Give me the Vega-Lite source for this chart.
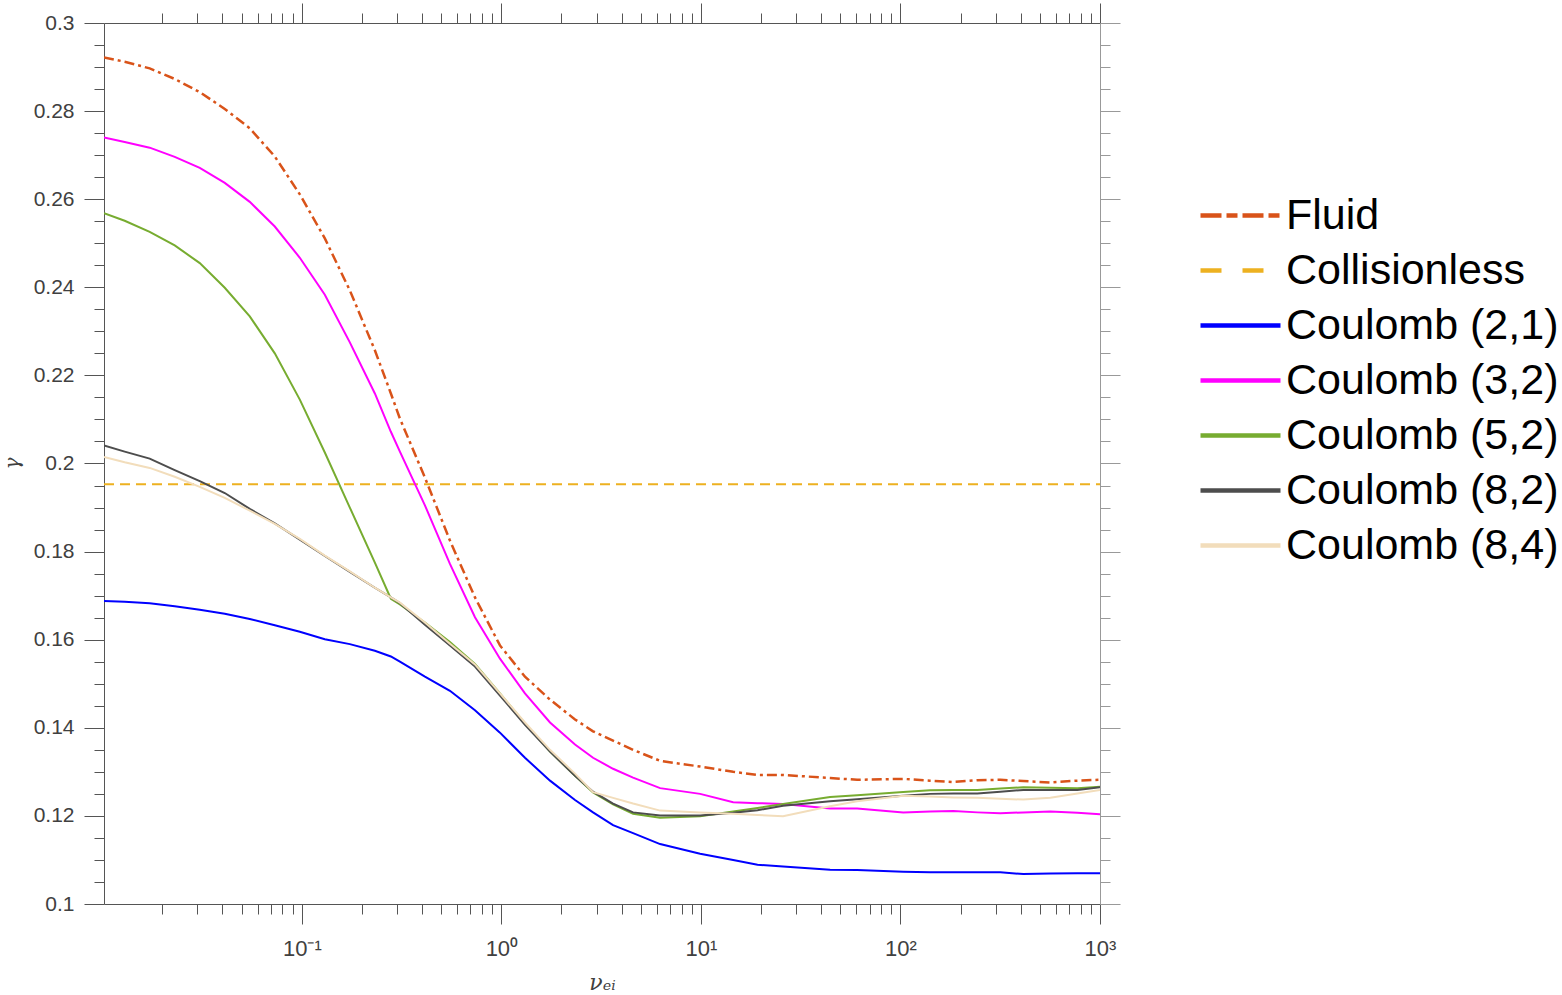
{
"$schema": "https://vega.github.io/schema/vega-lite/v6.json",
"width": 996, "height": 881,
"autosize": {"type": "none"},
"padding": {"left": 104, "top": 23, "right": 462, "bottom": 91},
"background": "white",
"config": {"view": {"stroke": null}, "axis": {"grid": false, "labelFont": "Liberation Sans", "labelFontSize": 21, "labelColor": "#404040", "domainColor": "#555555", "tickColor": "#555555", "tickWidth": 1, "domainWidth": 1, "labelOverlap": false, "labelFlush": false, "labelBound": false}},
"datasets": {"d": [
{"s":"Collisionless","x":0.0102,"y":0.1953},{"s":"Collisionless","x":1000,"y":0.1953},
{"s":"Fluid","x":0.0102,"y":0.2922},{"s":"Fluid","x":0.01295,"y":0.2912},{"s":"Fluid","x":0.01728,"y":0.2897},{"s":"Fluid","x":0.02307,"y":0.2873},{"s":"Fluid","x":0.0308,"y":0.2843},{"s":"Fluid","x":0.0411,"y":0.2805},{"s":"Fluid","x":0.05484,"y":0.2761},{"s":"Fluid","x":0.0732,"y":0.2697},{"s":"Fluid","x":0.09772,"y":0.2611},{"s":"Fluid","x":0.1304,"y":0.2511},{"s":"Fluid","x":0.174,"y":0.2393},{"s":"Fluid","x":0.2323,"y":0.2257},{"s":"Fluid","x":0.2794,"y":0.2159},{"s":"Fluid","x":0.3101,"y":0.2102},{"s":"Fluid","x":0.4139,"y":0.1968},{"s":"Fluid","x":0.5524,"y":0.1825},{"s":"Fluid","x":0.7374,"y":0.1696},{"s":"Fluid","x":0.984,"y":0.1587},{"s":"Fluid","x":1.313,"y":0.1516},{"s":"Fluid","x":1.753,"y":0.1464},{"s":"Fluid","x":2.339,"y":0.1419},{"s":"Fluid","x":2.88,"y":0.1392},{"s":"Fluid","x":3.628,"y":0.1371},{"s":"Fluid","x":4.571,"y":0.135},{"s":"Fluid","x":6.244,"y":0.1325},{"s":"Fluid","x":9.909,"y":0.1312},{"s":"Fluid","x":14.51,"y":0.13},{"s":"Fluid","x":19.22,"y":0.1293},{"s":"Fluid","x":25.8,"y":0.1293},{"s":"Fluid","x":44.41,"y":0.1286},{"s":"Fluid","x":60.66,"y":0.1282},{"s":"Fluid","x":103.3,"y":0.1284},{"s":"Fluid","x":140.7,"y":0.128},{"s":"Fluid","x":184,"y":0.1277},{"s":"Fluid","x":242.8,"y":0.1281},{"s":"Fluid","x":316.6,"y":0.1282},{"s":"Fluid","x":412.9,"y":0.1279},{"s":"Fluid","x":564,"y":0.1276},{"s":"Fluid","x":770.2,"y":0.128},{"s":"Fluid","x":1000,"y":0.1282},
{"s":"Coulomb (2,1)","x":0.0102,"y":0.1688},{"s":"Coulomb (2,1)","x":0.01295,"y":0.1686},{"s":"Coulomb (2,1)","x":0.01728,"y":0.1683},{"s":"Coulomb (2,1)","x":0.02307,"y":0.1676},{"s":"Coulomb (2,1)","x":0.0308,"y":0.1668},{"s":"Coulomb (2,1)","x":0.0411,"y":0.1659},{"s":"Coulomb (2,1)","x":0.05484,"y":0.1647},{"s":"Coulomb (2,1)","x":0.0732,"y":0.1633},{"s":"Coulomb (2,1)","x":0.09772,"y":0.1618},{"s":"Coulomb (2,1)","x":0.1304,"y":0.1601},{"s":"Coulomb (2,1)","x":0.174,"y":0.159},{"s":"Coulomb (2,1)","x":0.2323,"y":0.1575},{"s":"Coulomb (2,1)","x":0.2794,"y":0.1562},{"s":"Coulomb (2,1)","x":0.3101,"y":0.155},{"s":"Coulomb (2,1)","x":0.4139,"y":0.1516},{"s":"Coulomb (2,1)","x":0.5524,"y":0.1484},{"s":"Coulomb (2,1)","x":0.7374,"y":0.144},{"s":"Coulomb (2,1)","x":0.984,"y":0.1389},{"s":"Coulomb (2,1)","x":1.313,"y":0.1332},{"s":"Coulomb (2,1)","x":1.753,"y":0.128},{"s":"Coulomb (2,1)","x":2.339,"y":0.1236},{"s":"Coulomb (2,1)","x":2.88,"y":0.1208},{"s":"Coulomb (2,1)","x":3.628,"y":0.1179},{"s":"Coulomb (2,1)","x":4.571,"y":0.1161},{"s":"Coulomb (2,1)","x":6.244,"y":0.1136},{"s":"Coulomb (2,1)","x":9.909,"y":0.1114},{"s":"Coulomb (2,1)","x":14.51,"y":0.11},{"s":"Coulomb (2,1)","x":19.22,"y":0.1089},{"s":"Coulomb (2,1)","x":25.8,"y":0.1085},{"s":"Coulomb (2,1)","x":44.41,"y":0.1078},{"s":"Coulomb (2,1)","x":60.66,"y":0.1077},{"s":"Coulomb (2,1)","x":103.3,"y":0.1073},{"s":"Coulomb (2,1)","x":140.7,"y":0.1072},{"s":"Coulomb (2,1)","x":184,"y":0.1072},{"s":"Coulomb (2,1)","x":242.8,"y":0.1072},{"s":"Coulomb (2,1)","x":316.6,"y":0.1072},{"s":"Coulomb (2,1)","x":412.9,"y":0.1068},{"s":"Coulomb (2,1)","x":564,"y":0.1069},{"s":"Coulomb (2,1)","x":770.2,"y":0.107},{"s":"Coulomb (2,1)","x":1000,"y":0.107},
{"s":"Coulomb (3,2)","x":0.0102,"y":0.274},{"s":"Coulomb (3,2)","x":0.01295,"y":0.273},{"s":"Coulomb (3,2)","x":0.01728,"y":0.2717},{"s":"Coulomb (3,2)","x":0.02307,"y":0.2696},{"s":"Coulomb (3,2)","x":0.0308,"y":0.2671},{"s":"Coulomb (3,2)","x":0.0411,"y":0.2637},{"s":"Coulomb (3,2)","x":0.05484,"y":0.2594},{"s":"Coulomb (3,2)","x":0.0732,"y":0.2538},{"s":"Coulomb (3,2)","x":0.09772,"y":0.2467},{"s":"Coulomb (3,2)","x":0.1304,"y":0.2383},{"s":"Coulomb (3,2)","x":0.174,"y":0.2275},{"s":"Coulomb (3,2)","x":0.2323,"y":0.2159},{"s":"Coulomb (3,2)","x":0.2794,"y":0.2072},{"s":"Coulomb (3,2)","x":0.3101,"y":0.2027},{"s":"Coulomb (3,2)","x":0.4139,"y":0.1905},{"s":"Coulomb (3,2)","x":0.5524,"y":0.1772},{"s":"Coulomb (3,2)","x":0.7374,"y":0.1651},{"s":"Coulomb (3,2)","x":0.984,"y":0.1557},{"s":"Coulomb (3,2)","x":1.313,"y":0.1478},{"s":"Coulomb (3,2)","x":1.753,"y":0.1412},{"s":"Coulomb (3,2)","x":2.339,"y":0.1362},{"s":"Coulomb (3,2)","x":2.88,"y":0.1332},{"s":"Coulomb (3,2)","x":3.628,"y":0.1307},{"s":"Coulomb (3,2)","x":4.571,"y":0.1287},{"s":"Coulomb (3,2)","x":6.244,"y":0.1263},{"s":"Coulomb (3,2)","x":9.909,"y":0.125},{"s":"Coulomb (3,2)","x":14.51,"y":0.1231},{"s":"Coulomb (3,2)","x":19.22,"y":0.1229},{"s":"Coulomb (3,2)","x":25.8,"y":0.1227},{"s":"Coulomb (3,2)","x":44.41,"y":0.1217},{"s":"Coulomb (3,2)","x":60.66,"y":0.1217},{"s":"Coulomb (3,2)","x":103.3,"y":0.1208},{"s":"Coulomb (3,2)","x":140.7,"y":0.121},{"s":"Coulomb (3,2)","x":184,"y":0.1211},{"s":"Coulomb (3,2)","x":242.8,"y":0.1208},{"s":"Coulomb (3,2)","x":316.6,"y":0.1206},{"s":"Coulomb (3,2)","x":412.9,"y":0.1208},{"s":"Coulomb (3,2)","x":564,"y":0.121},{"s":"Coulomb (3,2)","x":770.2,"y":0.1207},{"s":"Coulomb (3,2)","x":1000,"y":0.1204},
{"s":"Coulomb (5,2)","x":0.0102,"y":0.2568},{"s":"Coulomb (5,2)","x":0.01295,"y":0.2551},{"s":"Coulomb (5,2)","x":0.01728,"y":0.2526},{"s":"Coulomb (5,2)","x":0.02307,"y":0.2495},{"s":"Coulomb (5,2)","x":0.0308,"y":0.2455},{"s":"Coulomb (5,2)","x":0.0411,"y":0.2399},{"s":"Coulomb (5,2)","x":0.05484,"y":0.2334},{"s":"Coulomb (5,2)","x":0.0732,"y":0.225},{"s":"Coulomb (5,2)","x":0.09772,"y":0.2145},{"s":"Coulomb (5,2)","x":0.1304,"y":0.2025},{"s":"Coulomb (5,2)","x":0.174,"y":0.19},{"s":"Coulomb (5,2)","x":0.2323,"y":0.1775},{"s":"Coulomb (5,2)","x":0.2794,"y":0.1693},{"s":"Coulomb (5,2)","x":0.3101,"y":0.168},{"s":"Coulomb (5,2)","x":0.4139,"y":0.1639},{"s":"Coulomb (5,2)","x":0.5524,"y":0.1595},{"s":"Coulomb (5,2)","x":0.7374,"y":0.1545},{"s":"Coulomb (5,2)","x":0.984,"y":0.1478},{"s":"Coulomb (5,2)","x":1.313,"y":0.141},{"s":"Coulomb (5,2)","x":1.753,"y":0.1346},{"s":"Coulomb (5,2)","x":2.339,"y":0.1291},{"s":"Coulomb (5,2)","x":2.88,"y":0.1253},{"s":"Coulomb (5,2)","x":3.628,"y":0.1226},{"s":"Coulomb (5,2)","x":4.571,"y":0.1205},{"s":"Coulomb (5,2)","x":6.244,"y":0.1196},{"s":"Coulomb (5,2)","x":9.909,"y":0.1199},{"s":"Coulomb (5,2)","x":14.51,"y":0.121},{"s":"Coulomb (5,2)","x":19.22,"y":0.1218},{"s":"Coulomb (5,2)","x":25.8,"y":0.1227},{"s":"Coulomb (5,2)","x":44.41,"y":0.1243},{"s":"Coulomb (5,2)","x":60.66,"y":0.1247},{"s":"Coulomb (5,2)","x":103.3,"y":0.1254},{"s":"Coulomb (5,2)","x":140.7,"y":0.1258},{"s":"Coulomb (5,2)","x":184,"y":0.1259},{"s":"Coulomb (5,2)","x":242.8,"y":0.1259},{"s":"Coulomb (5,2)","x":316.6,"y":0.1262},{"s":"Coulomb (5,2)","x":412.9,"y":0.1265},{"s":"Coulomb (5,2)","x":564,"y":0.1264},{"s":"Coulomb (5,2)","x":770.2,"y":0.1263},{"s":"Coulomb (5,2)","x":1000,"y":0.1266},
{"s":"Coulomb (8,2)","x":0.0102,"y":0.2041},{"s":"Coulomb (8,2)","x":0.01295,"y":0.2027},{"s":"Coulomb (8,2)","x":0.01728,"y":0.2011},{"s":"Coulomb (8,2)","x":0.02307,"y":0.1985},{"s":"Coulomb (8,2)","x":0.0308,"y":0.196},{"s":"Coulomb (8,2)","x":0.0411,"y":0.1933},{"s":"Coulomb (8,2)","x":0.05484,"y":0.1897},{"s":"Coulomb (8,2)","x":0.0732,"y":0.1864},{"s":"Coulomb (8,2)","x":0.09772,"y":0.1827},{"s":"Coulomb (8,2)","x":0.1304,"y":0.179},{"s":"Coulomb (8,2)","x":0.174,"y":0.1754},{"s":"Coulomb (8,2)","x":0.2323,"y":0.1718},{"s":"Coulomb (8,2)","x":0.2794,"y":0.1696},{"s":"Coulomb (8,2)","x":0.3101,"y":0.1683},{"s":"Coulomb (8,2)","x":0.4139,"y":0.1634},{"s":"Coulomb (8,2)","x":0.5524,"y":0.1587},{"s":"Coulomb (8,2)","x":0.7374,"y":0.1539},{"s":"Coulomb (8,2)","x":0.984,"y":0.1473},{"s":"Coulomb (8,2)","x":1.313,"y":0.1407},{"s":"Coulomb (8,2)","x":1.753,"y":0.1346},{"s":"Coulomb (8,2)","x":2.339,"y":0.1291},{"s":"Coulomb (8,2)","x":2.88,"y":0.1255},{"s":"Coulomb (8,2)","x":3.628,"y":0.1228},{"s":"Coulomb (8,2)","x":4.571,"y":0.1208},{"s":"Coulomb (8,2)","x":6.244,"y":0.1201},{"s":"Coulomb (8,2)","x":9.909,"y":0.1201},{"s":"Coulomb (8,2)","x":14.51,"y":0.1207},{"s":"Coulomb (8,2)","x":19.22,"y":0.1213},{"s":"Coulomb (8,2)","x":25.8,"y":0.1223},{"s":"Coulomb (8,2)","x":44.41,"y":0.1233},{"s":"Coulomb (8,2)","x":60.66,"y":0.1238},{"s":"Coulomb (8,2)","x":103.3,"y":0.1246},{"s":"Coulomb (8,2)","x":140.7,"y":0.125},{"s":"Coulomb (8,2)","x":184,"y":0.1251},{"s":"Coulomb (8,2)","x":242.8,"y":0.1251},{"s":"Coulomb (8,2)","x":316.6,"y":0.1255},{"s":"Coulomb (8,2)","x":412.9,"y":0.1259},{"s":"Coulomb (8,2)","x":564,"y":0.1259},{"s":"Coulomb (8,2)","x":770.2,"y":0.1259},{"s":"Coulomb (8,2)","x":1000,"y":0.1265},
{"s":"Coulomb (8,4)","x":0.0102,"y":0.2015},{"s":"Coulomb (8,4)","x":0.01295,"y":0.2003},{"s":"Coulomb (8,4)","x":0.01728,"y":0.199},{"s":"Coulomb (8,4)","x":0.02307,"y":0.197},{"s":"Coulomb (8,4)","x":0.0308,"y":0.1947},{"s":"Coulomb (8,4)","x":0.0411,"y":0.1922},{"s":"Coulomb (8,4)","x":0.05484,"y":0.1893},{"s":"Coulomb (8,4)","x":0.0732,"y":0.1863},{"s":"Coulomb (8,4)","x":0.09772,"y":0.1829},{"s":"Coulomb (8,4)","x":0.1304,"y":0.1791},{"s":"Coulomb (8,4)","x":0.174,"y":0.1755},{"s":"Coulomb (8,4)","x":0.2323,"y":0.1718},{"s":"Coulomb (8,4)","x":0.2794,"y":0.1696},{"s":"Coulomb (8,4)","x":0.3101,"y":0.1684},{"s":"Coulomb (8,4)","x":0.4139,"y":0.1639},{"s":"Coulomb (8,4)","x":0.5524,"y":0.1591},{"s":"Coulomb (8,4)","x":0.7374,"y":0.1544},{"s":"Coulomb (8,4)","x":0.984,"y":0.1478},{"s":"Coulomb (8,4)","x":1.313,"y":0.1412},{"s":"Coulomb (8,4)","x":1.753,"y":0.135},{"s":"Coulomb (8,4)","x":2.339,"y":0.1296},{"s":"Coulomb (8,4)","x":2.88,"y":0.1254},{"s":"Coulomb (8,4)","x":3.628,"y":0.1241},{"s":"Coulomb (8,4)","x":4.571,"y":0.1228},{"s":"Coulomb (8,4)","x":6.244,"y":0.1212},{"s":"Coulomb (8,4)","x":9.909,"y":0.1208},{"s":"Coulomb (8,4)","x":14.51,"y":0.1205},{"s":"Coulomb (8,4)","x":19.22,"y":0.1202},{"s":"Coulomb (8,4)","x":25.8,"y":0.1199},{"s":"Coulomb (8,4)","x":44.41,"y":0.1222},{"s":"Coulomb (8,4)","x":60.66,"y":0.1233},{"s":"Coulomb (8,4)","x":103.3,"y":0.1246},{"s":"Coulomb (8,4)","x":140.7,"y":0.1244},{"s":"Coulomb (8,4)","x":184,"y":0.1242},{"s":"Coulomb (8,4)","x":242.8,"y":0.1241},{"s":"Coulomb (8,4)","x":316.6,"y":0.1239},{"s":"Coulomb (8,4)","x":412.9,"y":0.1237},{"s":"Coulomb (8,4)","x":564,"y":0.1241},{"s":"Coulomb (8,4)","x":770.2,"y":0.1251},{"s":"Coulomb (8,4)","x":1000,"y":0.1259}
]},
"data": {"name": "d"},
"layer": [
{
"transform": [{"filter": "datum.s === 'Fluid'"}],
"mark": {"type": "line", "strokeWidth": 2.5, "strokeDash": [10,4,3,4], "clip": true},
"encoding": {
"x": {"field": "x", "type": "quantitative", "scale": {"type": "log", "domain": [0.0102, 1000], "nice": false},
 "axis": {"orient": "bottom", "title": "νₑᵢ", "values": [0.02,0.03,0.04,0.05,0.06,0.07,0.08,0.09,0.1,0.2,0.3,0.4,0.5,0.6,0.7,0.8,0.9,1,2,3,4,5,6,7,8,9,10,20,30,40,50,60,70,80,90,100,200,300,400,500,600,700,800,900,1000],
 "tickSize": {"condition": {"test": "abs(log(datum.value)/LN10 - round(log(datum.value)/LN10)) < 1e-6", "value": 20}, "value": 10},
 "labelExpr": "datum.value === 0.1 ? '10⁻¹' : datum.value === 1 ? '10⁰' : datum.value === 10 ? '10¹' : datum.value === 100 ? '10²' : datum.value === 1000 ? '10³' : ''",
 "labelPadding": 14, "labelFontSize": 22,
 "titleFont": "DejaVu Serif", "titleFontStyle": "italic", "titleFontWeight": "normal", "titleFontSize": 22, "titleColor": "#404040", "titleX": 498, "titleY": 85, "titleBaseline": "alphabetic", "titleAlign": "center"}},
"y": {"field": "y", "type": "quantitative", "scale": {"domain": [0.1, 0.3], "nice": false, "zero": false},
 "axis": {"orient": "left", "title": "γ", "values": [0.1,0.105,0.11,0.115,0.12,0.125,0.13,0.135,0.14,0.145,0.15,0.155,0.16,0.165,0.17,0.175,0.18,0.185,0.19,0.195,0.2,0.205,0.21,0.215,0.22,0.225,0.23,0.235,0.24,0.245,0.25,0.255,0.26,0.265,0.27,0.275,0.28,0.285,0.29,0.295,0.3],
 "tickSize": {"condition": {"test": "abs(datum.value*50 - round(datum.value*50)) < 1e-6", "value": 20}, "value": 10},
 "labelExpr": "abs(datum.value*50 - round(datum.value*50)) < 1e-6 ? format(datum.value, '.2~f') : ''",
 "labelPadding": 10,
 "titleFont": "DejaVu Serif", "titleFontStyle": "italic", "titleFontWeight": "normal", "titleFontSize": 20, "titleColor": "#404040", "titleX": -92, "titleY": 440, "titleAngle": -90, "titleBaseline": "middle", "titleAlign": "center"}},
"color": {"field": "s", "type": "nominal",
 "scale": {"domain": ["Fluid","Collisionless","Coulomb (2,1)","Coulomb (3,2)","Coulomb (5,2)","Coulomb (8,2)","Coulomb (8,4)"], "range": ["#D95319","#EDB120","#0000FF","#FF00FF","#77AC30","#4D4D4D","#F2DDBB"]},
 "legend": {"title": null, "orient": "none", "legendX": 1094, "legendY": 165, "padding": 0, "symbolType": "stroke", "symbolSize": 6400, "symbolStrokeWidth": 4.5, "labelFont": "Liberation Sans", "labelFontSize": 43, "labelColor": "black", "labelOffset": 3, "rowPadding": 0, "clipHeight": 55, "labelLimit": 500,
  "encode": {"symbols": {"update": {"strokeDash": {"signal": "datum.value === 'Fluid' ? [21,5,11,5] : datum.value === 'Collisionless' ? [21,21] : [1,0]"}}}}}}
}
},
{
"transform": [{"filter": "datum.s === 'Collisionless'"}],
"mark": {"type": "line", "strokeWidth": 2, "strokeDash": [10,6], "clip": true},
"encoding": {
"x": {"field": "x", "type": "quantitative", "scale": {"type": "log", "domain": [0.0102, 1000], "nice": false},
 "axis": {"orient": "top", "title": null, "labels": false, "values": [0.02,0.03,0.04,0.05,0.06,0.07,0.08,0.09,0.1,0.2,0.3,0.4,0.5,0.6,0.7,0.8,0.9,1,2,3,4,5,6,7,8,9,10,20,30,40,50,60,70,80,90,100,200,300,400,500,600,700,800,900,1000],
 "tickSize": {"condition": {"test": "abs(log(datum.value)/LN10 - round(log(datum.value)/LN10)) < 1e-6", "value": 20}, "value": 10}}},
"y": {"field": "y", "type": "quantitative", "scale": {"domain": [0.1, 0.3], "nice": false, "zero": false},
 "axis": {"orient": "right", "title": null, "labels": false, "domainColor": "#999999", "tickColor": "#999999", "values": [0.1,0.105,0.11,0.115,0.12,0.125,0.13,0.135,0.14,0.145,0.15,0.155,0.16,0.165,0.17,0.175,0.18,0.185,0.19,0.195,0.2,0.205,0.21,0.215,0.22,0.225,0.23,0.235,0.24,0.245,0.25,0.255,0.26,0.265,0.27,0.275,0.28,0.285,0.29,0.295,0.3],
 "tickSize": {"condition": {"test": "abs(datum.value*50 - round(datum.value*50)) < 1e-6", "value": 20}, "value": 10}}},
"color": {"field": "s", "type": "nominal",
 "scale": {"domain": ["Fluid","Collisionless","Coulomb (2,1)","Coulomb (3,2)","Coulomb (5,2)","Coulomb (8,2)","Coulomb (8,4)"], "range": ["#D95319","#EDB120","#0000FF","#FF00FF","#77AC30","#4D4D4D","#F2DDBB"]},
 "legend": {"title": null, "orient": "none", "legendX": 1094, "legendY": 165, "padding": 0, "symbolType": "stroke", "symbolSize": 6400, "symbolStrokeWidth": 4.5, "labelFont": "Liberation Sans", "labelFontSize": 43, "labelColor": "black", "labelOffset": 3, "rowPadding": 0, "clipHeight": 55, "labelLimit": 500,
  "encode": {"symbols": {"update": {"strokeDash": {"signal": "datum.value === 'Fluid' ? [21,5,11,5] : datum.value === 'Collisionless' ? [21,21] : [1,0]"}}}}}}
}
},
{
"transform": [{"filter": "datum.s !== 'Collisionless' && datum.s !== 'Fluid'"}],
"mark": {"type": "line", "strokeWidth": 2, "clip": true},
"encoding": {
"x": {"field": "x", "type": "quantitative", "scale": {"type": "log", "domain": [0.0102, 1000], "nice": false}, "axis": null},
"y": {"field": "y", "type": "quantitative", "scale": {"domain": [0.1, 0.3], "nice": false, "zero": false}, "axis": null},
"color": {"field": "s", "type": "nominal",
 "scale": {"domain": ["Fluid","Collisionless","Coulomb (2,1)","Coulomb (3,2)","Coulomb (5,2)","Coulomb (8,2)","Coulomb (8,4)"], "range": ["#D95319","#EDB120","#0000FF","#FF00FF","#77AC30","#4D4D4D","#F2DDBB"]},
 "legend": {"title": null, "orient": "none", "legendX": 1094, "legendY": 165, "padding": 0, "symbolType": "stroke", "symbolSize": 6400, "symbolStrokeWidth": 4.5, "labelFont": "Liberation Sans", "labelFontSize": 43, "labelColor": "black", "labelOffset": 3, "rowPadding": 0, "clipHeight": 55, "labelLimit": 500,
  "encode": {"symbols": {"update": {"strokeDash": {"signal": "datum.value === 'Fluid' ? [21,5,11,5] : datum.value === 'Collisionless' ? [21,21] : [1,0]"}}}}}}
}
}
],
"resolve": {"axis": {"x": "independent", "y": "independent"}}
}
